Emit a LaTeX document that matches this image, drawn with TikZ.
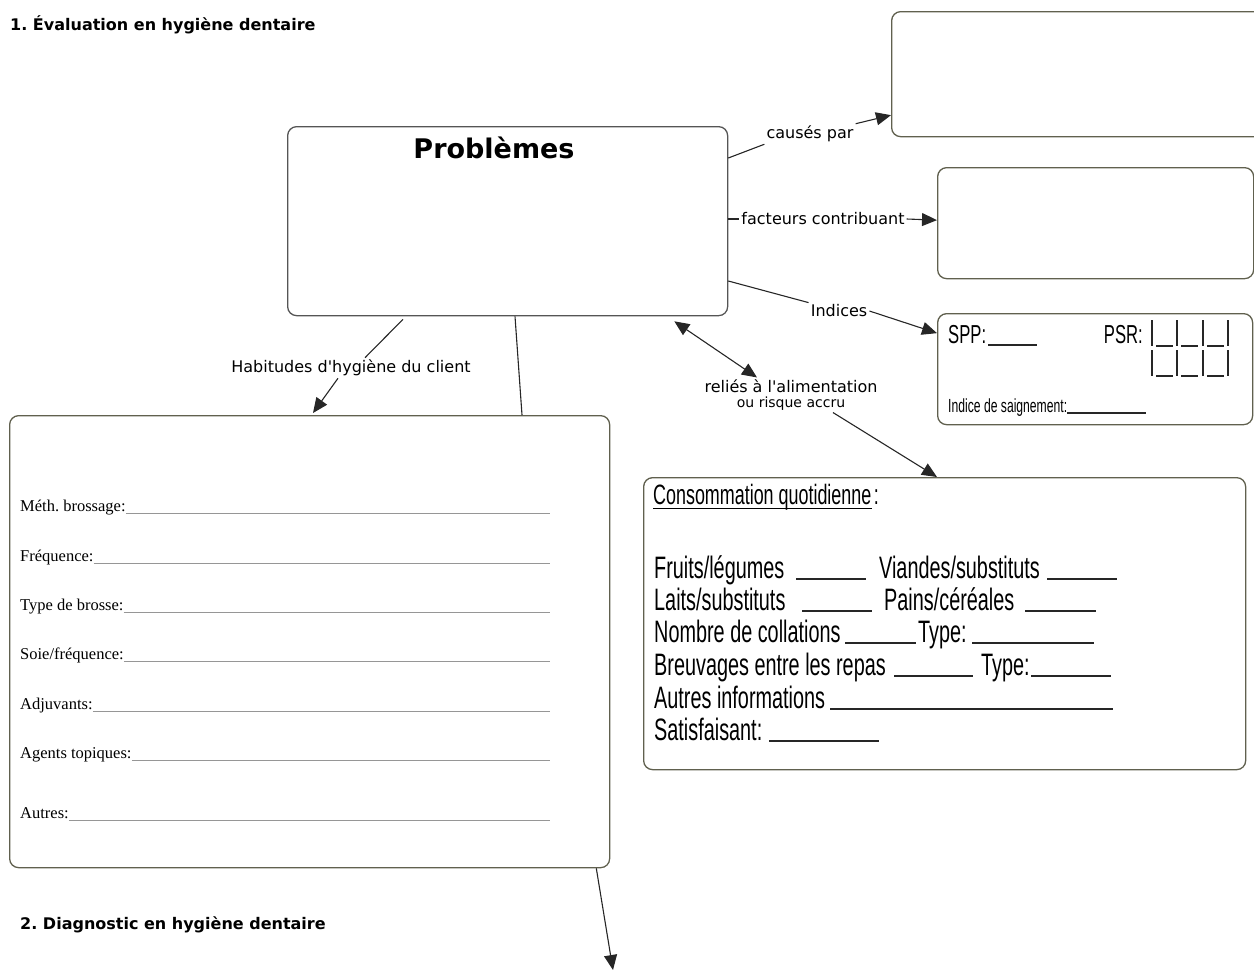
\documentclass[tikz,border=0pt]{standalone}
\usepackage{fontspec}
\setmainfont{DejaVu Sans}
\newfontfamily\formfont{Liberation Serif}
\newfontfamily\narrowfont[FakeStretch=0.64]{Liberation Sans}
\usetikzlibrary{arrows.meta}
\frenchspacing

\definecolor{cadre}{RGB}{96,96,78}
\definecolor{cadreprob}{RGB}{85,85,85}
\definecolor{trait}{RGB}{150,150,150}

\tikzset{
  boite/.style={draw=cadre, line width=1.3pt, rounded corners=9pt, anchor=north west, inner sep=0pt},
  lien/.style={draw=black!85, line width=1.1pt},
  fleche/.style={lien, -{Triangle[length=15pt,width=13pt]}},
  deuxfleches/.style={lien, {Triangle[length=15pt,width=13pt]}-{Triangle[length=15pt,width=13pt]}},
  etiq/.style={inner sep=2pt, font=\fontsize{16}{18}\selectfont},
  titre/.style={anchor=west, inner sep=0pt, font=\fontsize{16}{18}\selectfont\bfseries},
  champ/.style={anchor=base west, inner sep=0pt, font=\formfont\fontsize{16.5}{18}\selectfont},
  conso/.style={anchor=base west, inner sep=0pt, font=\narrowfont\fontsize{31}{34}\selectfont},
  blanc/.style={draw=black!85, line width=1.4pt},
  ligne/.style={draw=trait, line width=0.9pt},
}

\begin{document}
\begin{tikzpicture}[x=1pt,y=-1pt]
\useasboundingbox (0,0) rectangle (1254,972);

% titres
\node[titre] (eval) at (10,25) {1. Évaluation en hygiène dentaire};
\node[titre] (diag) at (20,925) {2. Diagnostic en hygiène dentaire};

% boites
\node[boite, draw=cadreprob, minimum width=440pt, minimum height=189pt] (prob) at (287,126) {};
\node[font=\fontsize{27}{30}\selectfont\bfseries] (probtitre) at (494,148) {Problèmes};
\node[boite, minimum width=372pt, minimum height=125pt] (cause) at (891,11) {};
\node[boite, minimum width=316pt, minimum height=111pt] (facteur) at (937,167) {};
\node[boite, minimum width=315pt, minimum height=111pt] (indice) at (937,313) {};
\node[boite, minimum width=602pt, minimum height=292pt] (aliment) at (643,477) {};
\node[boite, minimum width=600pt, minimum height=452pt] (habit) at (9,415) {};

% liens
\node[etiq] (causes) at (810,134) {causés par};
\node[etiq] (contrib) at (823,219) {facteurs contribuant};
\node[etiq] (indices) at (839,311) {Indices};
\node[etiq, align=center] (relies) at (791,395) {reliés à l\textquotesingle alimentation\\[-3pt]{\fontsize{14}{16}\selectfont ou risque accru}};
\node[etiq] (habitudes) at (351,368) {Habitudes d\textquotesingle hygiène du client};

\draw[lien] ([yshift=-32pt]prob.north east) -- (causes.south west);
\draw[fleche] (causes.north east) -- ([yshift=-41pt]cause.west);
\draw[lien] ([yshift=-93pt]prob.north east) -- (contrib.west);
\draw[fleche] (contrib.east) -- ([yshift=3pt]facteur.west);
\draw[lien] ([yshift=-155pt]prob.north east) -- (indices.north west);
\draw[fleche] (indices.east) -- ([yshift=36pt]indice.west);
\draw[deuxfleches] ([xshift=-54pt,yshift=-5pt]prob.south east) -- ([xshift=-34pt]relies.north);
\draw[fleche] ([xshift=42pt]relies.south) -- ([xshift=294pt]aliment.north west);
\draw[lien] ([xshift=116pt,yshift=-3pt]prob.south west) -- ([xshift=14pt]habitudes.north);
\draw[fleche] ([xshift=-13pt]habitudes.south) -- ([xshift=304pt,yshift=2pt]habit.north west);
\draw[lien] ([xshift=228pt]prob.south west) -- ([xshift=513pt]habit.north west);
\coordinate (diagnostic) at (613,970);
\draw[fleche] ([xshift=-14pt]habit.south east) -- (diagnostic);

% habitudes du client
\foreach \y/\txt [count=\i] in {511/{Méth. brossage:}, 561/{Fréquence:}, 610/{Type de brosse:},
    659/{Soie/fréquence:}, 709/{Adjuvants:}, 758/{Agents topiques:}, 818/{Autres:}} {
  \node[champ] (champ\i) at (20,\y) {\txt};
  \draw[ligne] ([yshift=-2pt]champ\i.base east) -- (550,\y+2);
}

% indices
\node[conso, font=\narrowfont\fontsize{26}{28}\selectfont] (spp) at (948,343) {SPP:};
\draw[blanc] (988,345) -- (1037,345);
\node[conso, anchor=base east, font=\narrowfont\fontsize{26}{28}\selectfont] (psr) at (1143,343) {PSR:};
\foreach \r in {0,1} {
  \foreach \xx in {1152,1177,1203,1228}
    \draw[blanc] (\xx,320+30*\r) -- (\xx,346+30*\r);
  \foreach \xx in {1152,1177,1203}
    \draw[blanc] (\xx+4,346+30*\r) -- (\xx+21,346+30*\r);
}
\node[conso, font=\narrowfont\fontsize{19}{21}\selectfont] (saign) at (948,412) {Indice de saignement:};
\draw[blanc] ([yshift=-1pt]saign.base east) -- (1146,413);

% consommation quotidienne
\node[conso, font=\narrowfont\fontsize{28}{30}\selectfont] (consotitre) at (653,504) {Consommation quotidienne};
\node[conso, font=\narrowfont\fontsize{28}{30}\selectfont] (deuxpoints) at ([xshift=2pt]consotitre.base east) {:};
\draw[line width=1pt] ([yshift=-4pt]consotitre.base west) -- ([yshift=-4pt]consotitre.base east);
\foreach \xx/\y/\txt [count=\i] in {654/578/{Fruits/légumes}, 879/578/{Viandes/substituts},
    654/610/{Laits/substituts}, 884/610/{Pains/céréales},
    654/642/{Nombre de collations}, 918/642/{Type:},
    654/675/{Breuvages entre les repas}, 981/675/{Type:},
    654/708/{Autres informations}, 654/740/{Satisfaisant:}}
  \node[conso] (aliment\i) at (\xx,\y) {\txt};
\foreach \xa/\xb/\y in {796/866/579, 1047/1117/579, 802/872/611, 1025/1096/611,
    845/916/643, 972/1094/643, 894/973/676, 1031/1111/676, 830/1113/709, 769/879/741}
  \draw[blanc] (\xa,\y) -- (\xb,\y);
\end{tikzpicture}
\end{document}
